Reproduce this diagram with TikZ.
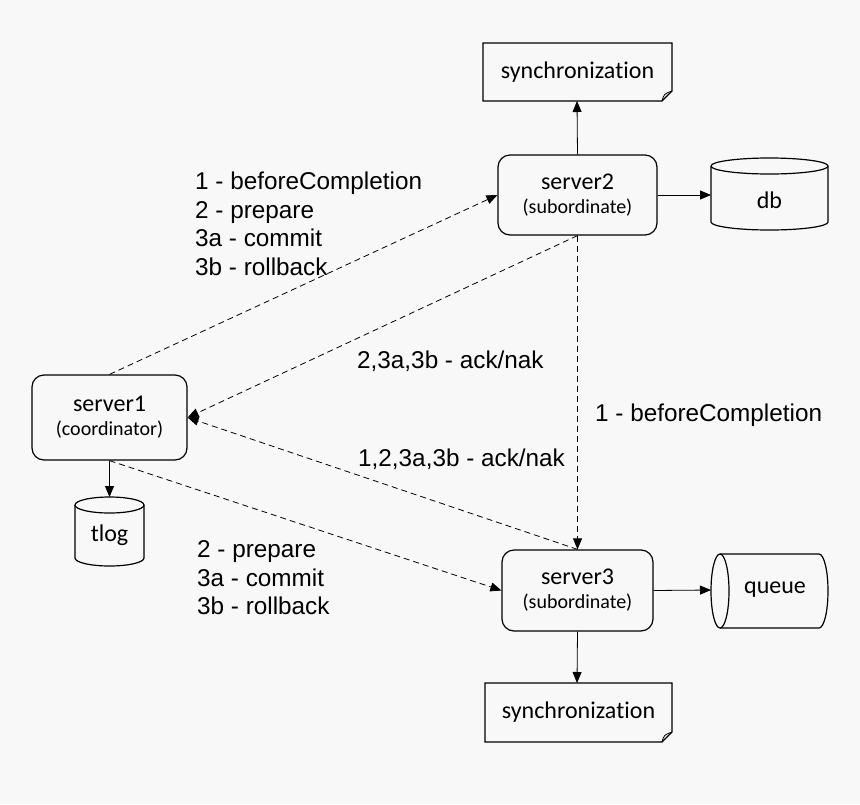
\documentclass[tikz,border=0pt]{standalone}
\usepackage{fontspec}
\setmainfont{Liberation Sans}
\newfontfamily\carl[RawFeature={-liga;-calt;-dlig;-clig}]{Carlito}
\usetikzlibrary{arrows.meta}
\definecolor{bg}{HTML}{F8F8F8}
\begin{document}
\begin{tikzpicture}[x=1pt,y=-1pt,
  srv/.style={draw,line width=1.2pt,rounded corners=12pt,minimum width=#1,minimum height=80pt,align=center,font=\carl\fontsize{24}{26}\selectfont},
  lbl/.style={font=\fontsize{24.3}{28.5}\selectfont,align=left,anchor=west,inner sep=0pt},
  arr/.style={-{Triangle[length=11pt,width=9pt]},line width=0.8pt},
  dsh/.style={arr,dash pattern=on 6pt off 4pt},
  cyl/.style={line width=1.2pt},
  plain/.style={font=\carl\fontsize{24}{26}\selectfont,inner sep=0pt}]
\newcommand\subf{\carl\fontsize{20}{22}\selectfont}
\fill[bg] (0,0) rectangle (860,804);
\useasboundingbox (0,0) rectangle (860,804);
% servers
\node[srv=159pt] (s2) at (577.5,195) {server2\\[-2pt]{\subf(subordinate)}};
\node[srv=155pt,minimum height=85pt] (s1) at (109.5,417.5) {server1\\[-2pt]{\subf(coordinator)}};
\node[srv=151pt,minimum height=81pt] (s3) at (577.5,590.5) {server3\\[-2pt]{\subf(subordinate)}};
% sync boxes
\def\sync#1#2#3#4#5{%
 \draw[line width=1.2pt] (#1,#2)--(#3,#2)--(#3,#4-10)--(#3-10,#4)--(#1,#4)--cycle;
 \draw[line width=0.8pt] (#3-10,#4) .. controls (#3-8,#4-7) .. (#3,#4-10);
 \node[plain] (#5) at ({(#1+#3)/2},{(#2+#4)/2}) {synchroniza\kern0ptt\kern0ption};}
\sync{483}{43}{672}{101}{y2}
\sync{485}{683}{672}{742}{y3}
\coordinate (y2b) at (577,101);
\coordinate (y3t) at (577,683);
% db
\draw[cyl] (711,166)--(711,222) arc[start angle=180,end angle=360,x radius=58.5pt,y radius=8pt] -- (828,166) arc[start angle=0,end angle=180,x radius=58.5pt,y radius=8pt];
\draw[cyl] (711,166) arc[start angle=180,end angle=360,x radius=58.5pt,y radius=8pt];
\node[plain] (db) at (769.5,200) {db};
\coordinate (dbl) at (711,195);
% tlog
\draw[cyl] (75,505)--(75,558) arc[start angle=180,end angle=360,x radius=34.5pt,y radius=8pt] -- (144,505) arc[start angle=0,end angle=180,x radius=34.5pt,y radius=8pt];
\draw[cyl] (75,505) arc[start angle=180,end angle=360,x radius=34.5pt,y radius=8pt];
\node[plain] (tlog) at (109.5,535) {tlog};
\coordinate (tlt) at (109.5,497);
% queue
\draw[cyl] (720,554)--(819,554) arc[start angle=90,end angle=-90,x radius=9pt,y radius=37pt] -- (720,628) arc[start angle=270,end angle=90,x radius=9pt,y radius=37pt];
\draw[cyl] (720,554) arc[start angle=90,end angle=-90,x radius=9pt,y radius=37pt];
\node[plain] (q) at (775,590) {queue};
\coordinate (ql) at (711,590);
% solid arrows
\draw[arr] (s2.north) -- (y2b);
\draw[arr] (s2.east) -- (dbl);
\draw[arr] (s1.south) -- (tlt);
\draw[arr] (s3.east) -- (ql);
\draw[arr] (s3.south) -- (y3t);
% dashed
\draw[dsh] (s1.north) -- (s2.west);
\draw[dsh] (s2.south) -- (s1.east);
\draw[dsh] (s3.north) -- (s1.east);
\draw[dsh] (s2.south) -- (s3.north);
\draw[dsh] (s1.south) -- (s3.west);
% labels
\node[lbl] (l1) at (195,224) {1 - beforeCompletion\\2 - prepare\\3a - commit\\3b - rollback};
\node[lbl] (l2) at (357,361) {2,3a,3b - ack/nak};
\node[lbl] (l3) at (595,415) {1 - beforeCompletion};
\node[lbl] (l4) at (358,459) {1,2,3a,3b - ack/nak};
\node[lbl] (l5) at (197,578) {2 - prepare\\3a - commit\\3b - rollback};
\end{tikzpicture}
\end{document}
